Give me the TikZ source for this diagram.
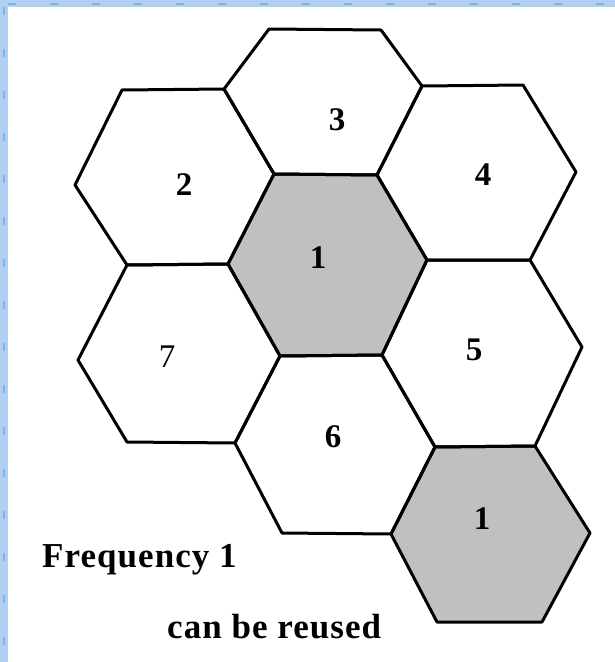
\documentclass[tikz,border=0pt]{standalone}
\usepackage{fontspec}
\setmainfont{Liberation Serif}
\newfontfamily\spaced[LetterSpace=3]{Liberation Serif}
\definecolor{cellgray}{RGB}{192,192,192}
\definecolor{framelight}{RGB}{176,208,242}
\definecolor{framedark}{RGB}{130,176,232}
\begin{document}
\begin{tikzpicture}[x=1pt,y=-1pt,
  cell/.style={draw=black,line width=3pt,line join=round},
  reuse/.style={cell,fill=cellgray},
  num/.style={font=\fontsize{33}{33}\selectfont\bfseries,inner sep=0pt},
  caption/.style={font=\fontsize{35}{35}\selectfont\spaced\bfseries,inner sep=0pt,anchor=base west}]
\useasboundingbox (0,0) rectangle (615,662);
\fill[white] (0,0) rectangle (615,662);
% light blue frame
\fill[framelight] (0,0) rectangle (615,7);
\fill[framelight] (0,0) rectangle (8,662);
\draw[framedark,line width=2pt,dash pattern=on 8pt off 34pt] (8,3.5) -- (615,3.5);
\draw[framedark,line width=2pt,dash pattern=on 8pt off 34pt] (4,7) -- (4,662);
% vertices
\coordinate (A) at (122,90);
\coordinate (B) at (224,89);
\coordinate (C) at (269,29);
\coordinate (D) at (381,30);
\coordinate (E) at (422,86);
\coordinate (F) at (523,85);
\coordinate (G) at (576,172);
\coordinate (H) at (530,260);
\coordinate (I) at (427,260);
\coordinate (J) at (377,175);
\coordinate (K) at (274,174);
\coordinate (L) at (75,185);
\coordinate (M) at (127,265);
\coordinate (N) at (228,264);
\coordinate (O) at (78,360);
\coordinate (P) at (280,356);
\coordinate (Q) at (382,355);
\coordinate (R) at (582,347);
\coordinate (S) at (535,446);
\coordinate (T) at (435,447);
\coordinate (U) at (127,442);
\coordinate (V) at (235,443);
\coordinate (W) at (282,533);
\coordinate (X) at (391,534);
\coordinate (Y) at (590,533);
\coordinate (Z1) at (437,622);
\coordinate (Z2) at (542,622);
% reused cells
\draw[reuse] (K) -- (J) -- (I) -- (Q) -- (P) -- (N) -- cycle;
\draw[reuse] (T) -- (S) -- (Y) -- (Z2) -- (Z1) -- (X) -- cycle;
% other cells
\draw[cell] (A) -- (B) -- (K) -- (N) -- (M) -- (L) -- cycle;
\draw[cell] (C) -- (D) -- (E) -- (J) -- (K) -- (B) -- cycle;
\draw[cell] (E) -- (F) -- (G) -- (H) -- (I) -- (J) -- cycle;
\draw[cell] (M) -- (N) -- (P) -- (V) -- (U) -- (O) -- cycle;
\draw[cell] (I) -- (H) -- (R) -- (S) -- (T) -- (Q) -- cycle;
\draw[cell] (P) -- (Q) -- (T) -- (X) -- (W) -- (V) -- cycle;
% labels
\node[num] (n2) at (184,185) {2};
\node[num] (n3) at (337,120) {3};
\node[num] (n4) at (483,175) {4};
\node[num] (n1) at (318,258) {1};
\node[num,font=\fontsize{33}{33}\selectfont] (n7) at (167,357) {7};
\node[num] (n5) at (474,350) {5};
\node[num] (n6) at (333,437) {6};
\node[num] (n1b) at (482,519) {1};
\node[caption] (t1) at (42,567) {Frequency 1};
\node[caption] (t2) at (167,638) {can be reused};
\end{tikzpicture}
\end{document}
